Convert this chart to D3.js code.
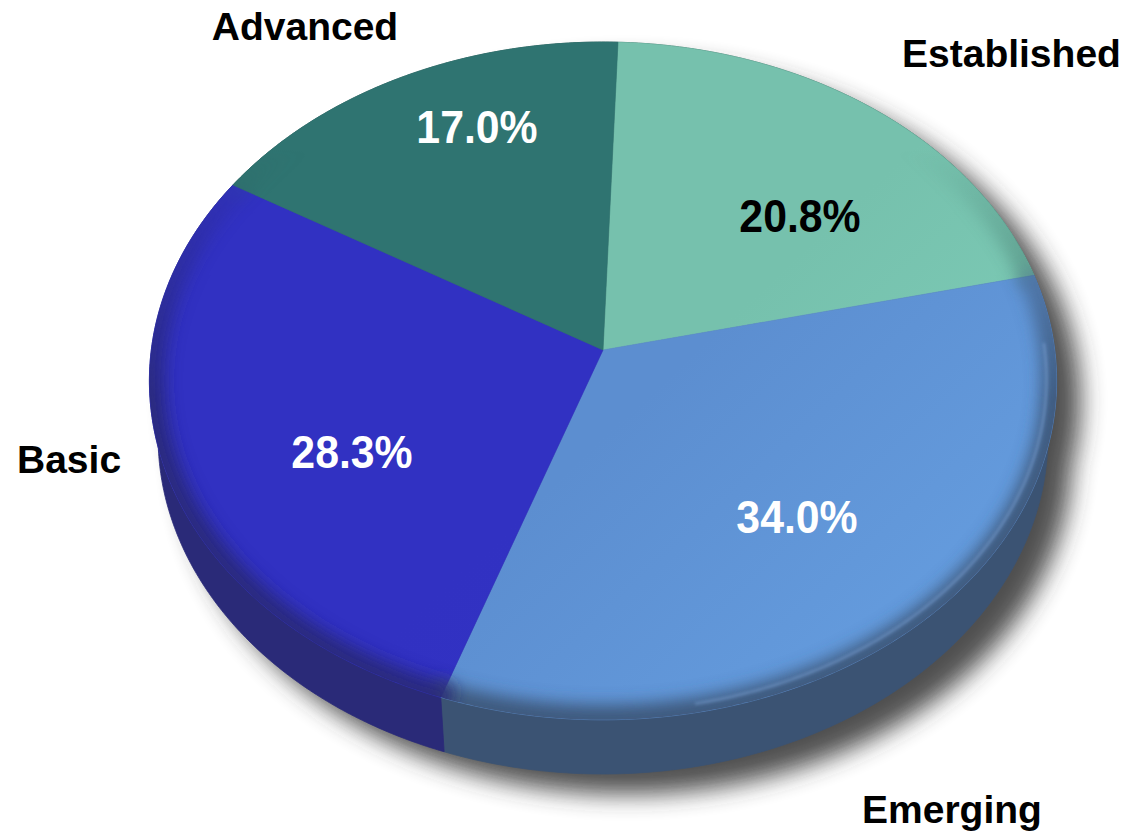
<!DOCTYPE html>
<html>
<head>
<meta charset="utf-8">
<script src="https://cdn.jsdelivr.net/npm/d3@7"></script>
<style>
  html, body { margin: 0; padding: 0; background: #ffffff; }
  svg { display: block; }
  text { font-family: "Liberation Sans", Arial, "DejaVu Sans", sans-serif; font-weight: bold; }
</style>
</head>
<body>
<svg id="chart" width="1131" height="836"></svg>
<script>
// Segment data, clockwise from the top
const categories = ["Established", "Emerging", "Basic", "Advanced"];
const shares = [20.8, 34.0, 28.3, 17.0];
const shareLabels = ["20.8%", "34.0%", "28.3%", "17.0%"];

// Per-segment styling
const faceColors = ["#76c1ad", "#5c8ed0", "#3131c2", "#2f7471"];
const faceLight = ["#7fcfba", "#659ddf", "#3434c6", "#317773"];
const sideColors = ["#3e6e64", "#3b5373", "#2a2a78", "#2a5a58"];
const shareTextColors = ["#000000", "#ffffff", "#ffffff", "#ffffff"];

// Label placement (pixels)
const shareLabelPos = [[800, 232], [797, 533], [352, 468], [477, 143]];
const categoryLabelPos = [
  { x: 902, y: 67, anchor: "start" },
  { x: 862, y: 823, anchor: "start" },
  { x: 17, y: 473, anchor: "start" },
  { x: 305, y: 40, anchor: "middle" }
];

// Perspective view of a disc lying in a tilted plane
const view = { cx: 603, cy: 350, k: 3311, d: 7.33, sinA: 0.744, cosA: 0.669, thick: 0.19 };

function project(theta, r, w) {
  const u = r * Math.sin(theta), v = r * Math.cos(theta);
  const yUp = v * view.sinA + w * view.cosA;
  const depth = view.d + v * view.cosA - w * view.sinA;
  return [view.cx + view.k * u / depth, view.cy - view.k * yUp / depth];
}

function arcPoints(a0, a1, r, w) {
  const n = Math.max(8, Math.ceil((a1 - a0) / 0.01));
  return d3.range(n + 1).map(i => project(a0 + (a1 - a0) * i / n, r, w));
}

const line = d3.line().curve(d3.curveLinear);

const startAngle = 0.0362;
const pie = d3.pie().sort(null).value(d => d)
  .startAngle(startAngle).endAngle(startAngle + 2 * Math.PI);
const arcs = pie(shares);

const svg = d3.select("#chart");
const defs = svg.append("defs");

function blurFilter(id, sd) {
  defs.append("filter").attr("id", id)
    .attr("x", "-20%").attr("y", "-20%").attr("width", "140%").attr("height", "140%")
    .append("feGaussianBlur").attr("stdDeviation", sd);
}
blurFilter("shadowBlur", 12);
blurFilter("edgeBlur", 8);
blurFilter("sideBlur", 4);
blurFilter("glintBlur", 1.6);

// Face gradients (light from lower right)
arcs.forEach((a, i) => {
  const g = defs.append("linearGradient").attr("id", "face" + i)
    .attr("gradientUnits", "userSpaceOnUse")
    .attr("x1", 300).attr("y1", 60).attr("x2", 900).attr("y2", 700);
  g.append("stop").attr("offset", 0).attr("stop-color", faceColors[i]);
  g.append("stop").attr("offset", 0.55).attr("stop-color", faceColors[i]);
  g.append("stop").attr("offset", 1).attr("stop-color", faceLight[i]);
});

// Outlines of the disc
const rimTop = arcPoints(0, 2 * Math.PI, 1, 0);
const rimBottom = arcPoints(0, 2 * Math.PI, 1, -view.thick);

defs.append("clipPath").attr("id", "faceClip")
  .append("path").attr("d", line(rimTop) + "Z");

// Mask so the rim shading fades out toward the far edge
const mg = defs.append("linearGradient").attr("id", "rimFade")
  .attr("gradientUnits", "userSpaceOnUse")
  .attr("x1", 0).attr("y1", 150).attr("x2", 0).attr("y2", 400);
mg.append("stop").attr("offset", 0).attr("stop-color", "#000");
mg.append("stop").attr("offset", 1).attr("stop-color", "#fff");
defs.append("mask").attr("id", "rimMask").attr("maskUnits", "userSpaceOnUse")
  .attr("x", 0).attr("y", 0).attr("width", 1131).attr("height", 836)
  .append("rect").attr("width", 1131).attr("height", 836).attr("fill", "url(#rimFade)");

function sidePath(a) {
  const top = arcPoints(a.startAngle, a.endAngle, 1, 0);
  const bot = arcPoints(a.startAngle, a.endAngle, 1, -view.thick).reverse();
  return line(top.concat(bot)) + "Z";
}

// Drop shadow of the whole disc
const shadow = svg.append("g").attr("filter", "url(#shadowBlur)")
  .attr("transform", "translate(24,20)").attr("opacity", 0.85);
shadow.append("path").attr("d", line(rimTop) + "Z").attr("fill", "#333");
shadow.append("path").attr("d", line(rimBottom) + "Z").attr("fill", "#333");
arcs.forEach(a => shadow.append("path").attr("d", sidePath(a)).attr("fill", "#333"));

// Side walls
const sides = svg.append("g");
arcs.forEach((a, i) => {
  sides.append("path").attr("d", sidePath(a))
    .attr("fill", sideColors[i]).attr("stroke", sideColors[i]).attr("stroke-width", 0.8);
});

// Top faces
const faces = svg.append("g");
arcs.forEach((a, i) => {
  const pts = [project(0, 0, 0)].concat(arcPoints(a.startAngle, a.endAngle, 1, 0));
  faces.append("path").attr("d", line(pts) + "Z")
    .attr("fill", `url(#face${i})`)
    .attr("stroke", faceColors[i]).attr("stroke-width", 0.6);
});

// Rounded edge: face colour blends into the wall colour near the rim
const rimShade = svg.append("g").attr("clip-path", "url(#faceClip)")
  .append("g").attr("mask", "url(#rimMask)");
arcs.forEach((a, i) => {
  rimShade.append("path")
    .attr("d", line(arcPoints(a.startAngle - 0.02, a.endAngle + 0.02, 1, 0)))
    .attr("fill", "none").attr("stroke", sideColors[i]).attr("stroke-width", 30)
    .attr("stroke-opacity", 0.9).attr("filter", "url(#edgeBlur)");
});

// Specular glint along the front bevel
const glintPts = arcPoints(1.55, 2.95, 0.978, 0);
svg.append("path").attr("d", line(glintPts))
  .attr("fill", "none").attr("stroke", "#8fb6ea").attr("stroke-width", 2)
  .attr("stroke-opacity", 0.5).attr("filter", "url(#glintBlur)");

// Percentage labels
const shareG = svg.append("g");
arcs.forEach((a, i) => {
  const [x, y] = shareLabelPos[i];
  shareG.append("text")
    .attr("transform", `translate(${x},${y}) scale(0.93,1)`)
    .attr("text-anchor", "middle")
    .attr("font-size", 46)
    .attr("fill", shareTextColors[i])
    .text(shareLabels[i]);
});

// Category labels
const catG = svg.append("g");
categories.forEach((c, i) => {
  const p = categoryLabelPos[i];
  catG.append("text")
    .attr("x", p.x).attr("y", p.y)
    .attr("text-anchor", p.anchor)
    .attr("font-size", 39)
    .attr("fill", "#000")
    .text(c);
});
</script>
</body>
</html>
